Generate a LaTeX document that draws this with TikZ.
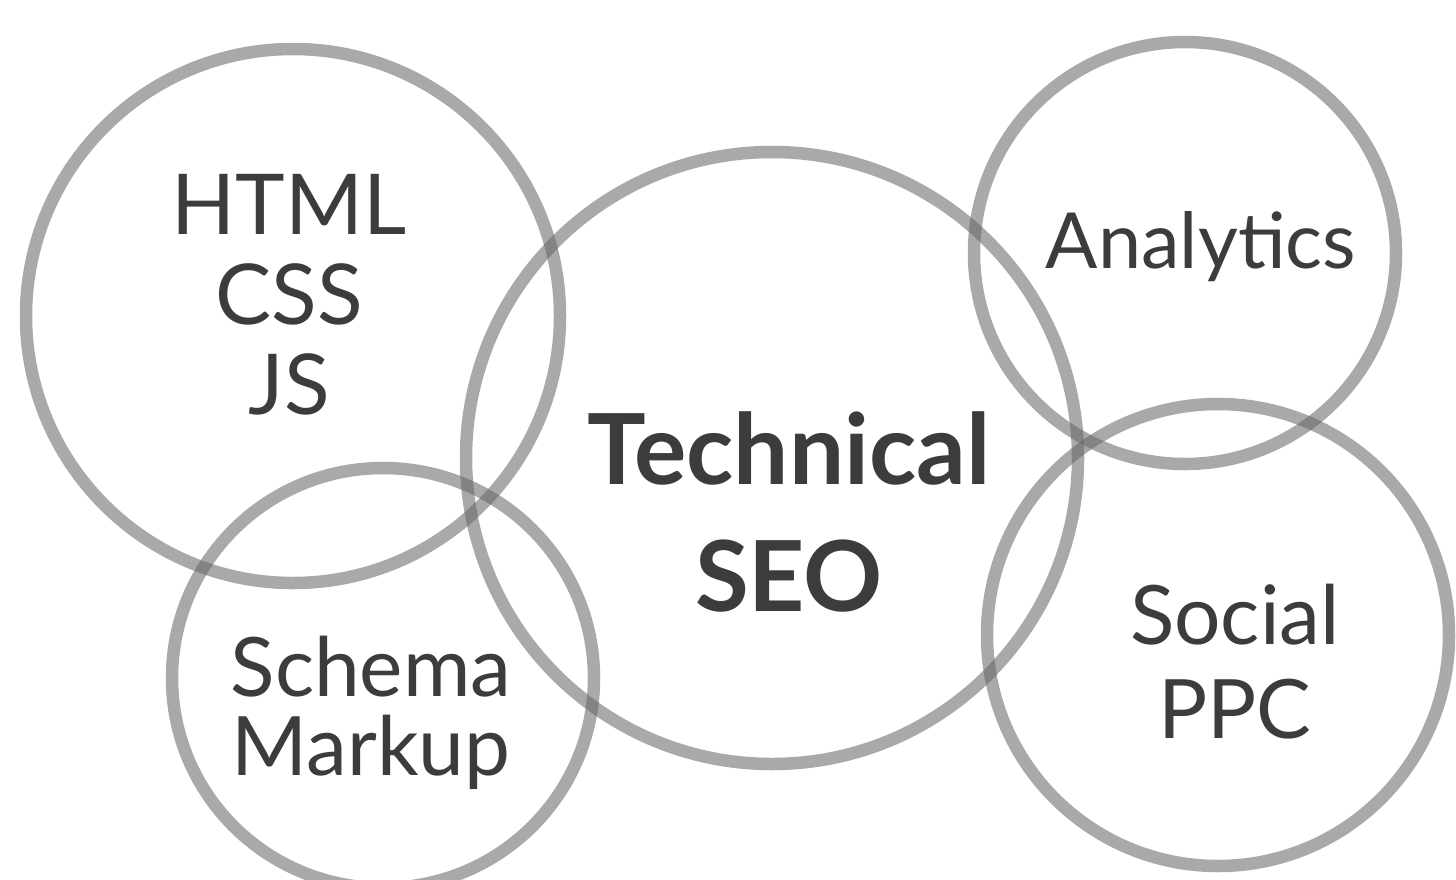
\documentclass[tikz,border=0pt]{standalone}
\usepackage{fontspec}
\setmainfont{Lato}
\usetikzlibrary{positioning}
\definecolor{ringgray}{RGB}{100,100,100}
\definecolor{inkgray}{RGB}{60,60,60}
\tikzset{ring/.style = {draw=ringgray, draw opacity=0.55, line width=6.25pt}}
\tikzset{word/.style = {text=inkgray, align=center, inner sep=0, anchor=center}}

\begin{document}
\begin{tikzpicture}[x=0.5pt, y=-0.5pt]
  \useasboundingbox (0,0) rectangle (1456,879);
  \clip (0,0) rectangle (1456,879);
  \fill [white] (0,0) rectangle (1456,879);

  \draw [ring] (293,316) circle [radius=267];
  \draw [ring] (772,458) circle [radius=306];
  \draw [ring] (1185,253) circle [radius=211];
  \draw [ring] (1218,635) circle [radius=231];
  \draw [ring] (383,678) ellipse [x radius=211, y radius=210];

  \node [word, font=\fontsize{42}{45}\selectfont] (web) at (289,295) {HTML\\CSS\\JS};
  \node [word, font=\fontsize{38.7}{40}\selectfont] (analytics) at (1201,247) {Analytics};
  \node [word, font=\fontsize{41}{47}\selectfont] (social) at (1235,662) {Social\\PPC};
  \node [word, font=\fontsize{41}{39.5}\selectfont] (schema) at (371,713) {Schema\\Markup};
  \node [word, font=\fontsize{49}{63.5}\selectfont\bfseries] (seo) at (789,512) {Technical\\SEO};
\end{tikzpicture}
\end{document}
